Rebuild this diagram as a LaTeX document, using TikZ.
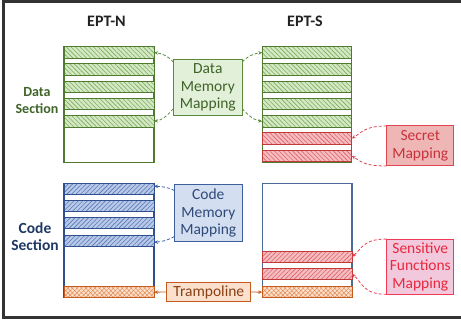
\documentclass[tikz,border=0pt]{standalone}
\usepackage{fontspec}
\setmainfont{Carlito}
\usetikzlibrary{patterns.meta,arrows.meta}
\definecolor{gfill}{HTML}{D5E8C5}
\definecolor{gline}{HTML}{4F7A30}
\definecolor{ghatch}{HTML}{7BAE5A}
\definecolor{bfill}{HTML}{B8C9E8}
\definecolor{bline}{HTML}{2F4F8F}
\definecolor{bhatch}{HTML}{5878B8}
\definecolor{rfill}{HTML}{F5BDC0}
\definecolor{rline}{HTML}{C03A3A}
\definecolor{rhatch}{HTML}{E0606A}
\definecolor{tfill}{HTML}{FBE1CD}
\definecolor{tline}{HTML}{C55A1E}
\definecolor{thatch}{HTML}{E58A50}
\definecolor{dmfill}{HTML}{E2EFD9}
\definecolor{dmline}{HTML}{5A8A3A}
\definecolor{dmtext}{HTML}{3F6428}
\definecolor{cmfill}{HTML}{D3DEF1}
\definecolor{cmline}{HTML}{3C5F9C}
\definecolor{cmtext}{HTML}{2F4A78}
\definecolor{smfill}{HTML}{EFB6B6}
\definecolor{smline}{HTML}{E04550}
\definecolor{smtext}{HTML}{C8323C}
\definecolor{sffill}{HTML}{F2C8DC}
\definecolor{sfline}{HTML}{F03A55}
\definecolor{sftext}{HTML}{E8283E}
\definecolor{framec}{HTML}{333333}
\definecolor{hdrc}{HTML}{222222}
\definecolor{codesec}{HTML}{1F3864}
\definecolor{slate}{HTML}{4C6A96}
\tikzset{
  every node/.style={inner sep=0pt, outer sep=0pt},
  lbl/.style={font=\fontsize{15.5}{17.5}\selectfont, align=center},
  hdr/.style={font=\bfseries\fontsize{16}{18}\selectfont, text=hdrc},
  rowbase/.style={minimum width=90pt, minimum height=11.6pt, anchor=north west, line width=0.9pt},
  greenrow/.style={rowbase, draw=gline, preaction={fill=gfill}, pattern={Lines[angle=-45,distance=3.2pt,line width=0.6pt]}, pattern color=ghatch},
  reddatarow/.style={rowbase, draw=rline, preaction={fill=rfill}, pattern={Lines[angle=-45,distance=3.2pt,line width=0.6pt]}, pattern color=rhatch},
  redcoderow/.style={rowbase, minimum height=11pt, draw=rline, preaction={fill=rfill}, pattern={Lines[angle=45,distance=3.2pt,line width=0.6pt]}, pattern color=rhatch},
  bluerow/.style={rowbase, minimum height=11pt, draw=bline, preaction={fill=bfill}, pattern={Lines[angle=45,distance=3.2pt,line width=0.6pt]}, pattern color=bhatch},
  tramprow/.style={rowbase, minimum height=11pt, draw=tline, preaction={fill=tfill}, preaction={pattern={Lines[angle=45,distance=3.2pt,line width=0.5pt]}, pattern color=thatch}, pattern={Lines[angle=-45,distance=3.2pt,line width=0.5pt]}, pattern color=thatch},
  container/.style={anchor=north west, line width=1.3pt},
  mapbox/.style={lbl, line width=1pt},
  darr/.style={dashed, dash pattern=on 3pt off 2pt, line width=0.8pt, -{Stealth[length=4pt,width=3.5pt]}},
  sarr/.style={line width=0.8pt, -{Stealth[length=4pt,width=3.5pt]}}
}
\begin{document}
\begin{tikzpicture}[x=1pt,y=-1pt]
\useasboundingbox (0,0) rectangle (461,320);
\draw[framec, line width=2.6pt] (3.5,1.3) rectangle (475,317.5);

% headers
\node[hdr] (hn) at (106.5,21.5) {EPT-N};
\node[hdr] (hs) at (305,21.5) {EPT-S};
\node[font=\bfseries\fontsize{14}{17}\selectfont, text=dmtext, align=center] (ds) at (37,100.5) {Data\\Section};
\node[font=\bfseries\fontsize{15.5}{17}\selectfont, text=codesec, align=center] (cs) at (35,236.5) {Code\\Section};

% EPT-N data
\node[container, draw=gline, minimum width=90pt, minimum height=115.6pt] (nd) at (64,46.7) {};
\node[greenrow] (n1) at (64,46.7) {};
\node[greenrow] (n2) at (64,63.9) {};
\node[greenrow] (n3) at (64,81.1) {};
\node[greenrow] (n4) at (64,98.3) {};
\node[greenrow] (n5) at (64,115.5) {};

% EPT-S data
\node[container, draw=gline, minimum width=89.5pt, minimum height=115.6pt] (sd) at (262.3,46.7) {};
\node[greenrow, minimum width=89.5pt] (s1) at (262.3,46.7) {};
\node[greenrow, minimum width=89.5pt] (s2) at (262.3,63.9) {};
\node[greenrow, minimum width=89.5pt] (s3) at (262.3,81.1) {};
\node[greenrow, minimum width=89.5pt] (s4) at (262.3,98.3) {};
\node[greenrow, minimum width=89.5pt] (s5) at (262.3,115.5) {};
\node[reddatarow, minimum width=89.5pt] (r1) at (262.3,132.7) {};
\node[reddatarow, minimum width=89.5pt] (r2) at (262.3,150.2) {};

% EPT-N code
\node[container, draw=bline, minimum width=90pt, minimum height=114.4pt] (nc) at (64,183.3) {};
\node[bluerow] (c1) at (64,183.3) {};
\node[bluerow] (c2) at (64,200.6) {};
\node[bluerow] (c3) at (64,217.8) {};
\node[bluerow] (c4) at (64,235.1) {};
\node[tramprow] (tn) at (64,286.7) {};

% EPT-S code
\node[container, draw=slate, minimum width=89.7pt, minimum height=114.4pt] (sc) at (262.3,183.3) {};
\node[redcoderow, minimum width=89.7pt] (q1) at (262.3,251.3) {};
\node[redcoderow, minimum width=89.7pt] (q2) at (262.3,268.5) {};
\node[tramprow, minimum width=89.7pt] (ts) at (262.3,286.7) {};

% mapping boxes
\node[mapbox, draw=dmline, fill=dmfill, text=dmtext, minimum width=69pt, minimum height=56.7pt] (dm) at (207.8,87.4) {Data\\Memory\\Mapping};
\node[mapbox, draw=cmline, fill=cmfill, text=cmtext, minimum width=68pt, minimum height=56.7pt] (cm) at (208.3,213.3) {Code\\Memory\\Mapping};
\node[mapbox, draw=tline, fill=tfill, text=tline!70!black, minimum width=84.3pt, minimum height=18.6pt] (tb) at (208.8,292) {Trampoline};
\node[mapbox, draw=smline, fill=smfill, text=smtext, minimum width=67.3pt, minimum height=40pt, font=\fontsize{15.5}{18.5}\selectfont] (sm) at (420.3,146) {Secret\\Mapping};
\node[mapbox, draw=sfline, fill=sffill, text=sftext, minimum width=67.3pt, minimum height=55.3pt] (sf) at (420.3,266.7) {Sensitive\\Functions\\Mapping};

% data arrows
\draw[darr, dmline] ([yshift=-3pt]dm.north west) .. controls +(-5,-6) and +(8,1) .. (n1.east);
\draw[darr, dmline] ([yshift=7pt]dm.south west) .. controls +(-5,6) and +(8,-1) .. (n5.east);
\draw[darr, dmline] ([yshift=-3pt]dm.north east) .. controls +(5,-6) and +(-8,1) .. (s1.west);
\draw[darr, dmline] ([yshift=7pt]dm.south east) .. controls +(5,6) and +(-8,-1) .. (s5.west);

% code arrows
\draw[darr, cmline] ([yshift=-5.5pt]cm.north west) .. controls +(-5,-3) and +(7,0) .. ([yshift=2.5pt]c1.east);
\draw[darr, cmline] ([yshift=5pt]cm.south west) .. controls +(-5,3) and +(7,0) .. ([yshift=-1.5pt]c4.east);

% trampoline arrows
\draw[sarr, tline] (tb.west) -- (tn.east);
\draw[sarr, tline] (tb.east) -- (ts.west);

% secret arrows
\draw[darr, smline] (sm.north west) .. controls +(-22,0) and +(10,-6) .. (r1.east);
\draw[darr, smline] (sm.south west) .. controls +(-22,0) and +(10,6) .. (r2.east);

% sensitive arrows
\draw[darr, sfline] (sf.north west) .. controls +(-24,0) and +(10,-8) .. (q1.east);
\draw[darr, sfline] (sf.south west) .. controls +(-24,0) and +(10,8) .. (q2.east);
\end{tikzpicture}
\end{document}
